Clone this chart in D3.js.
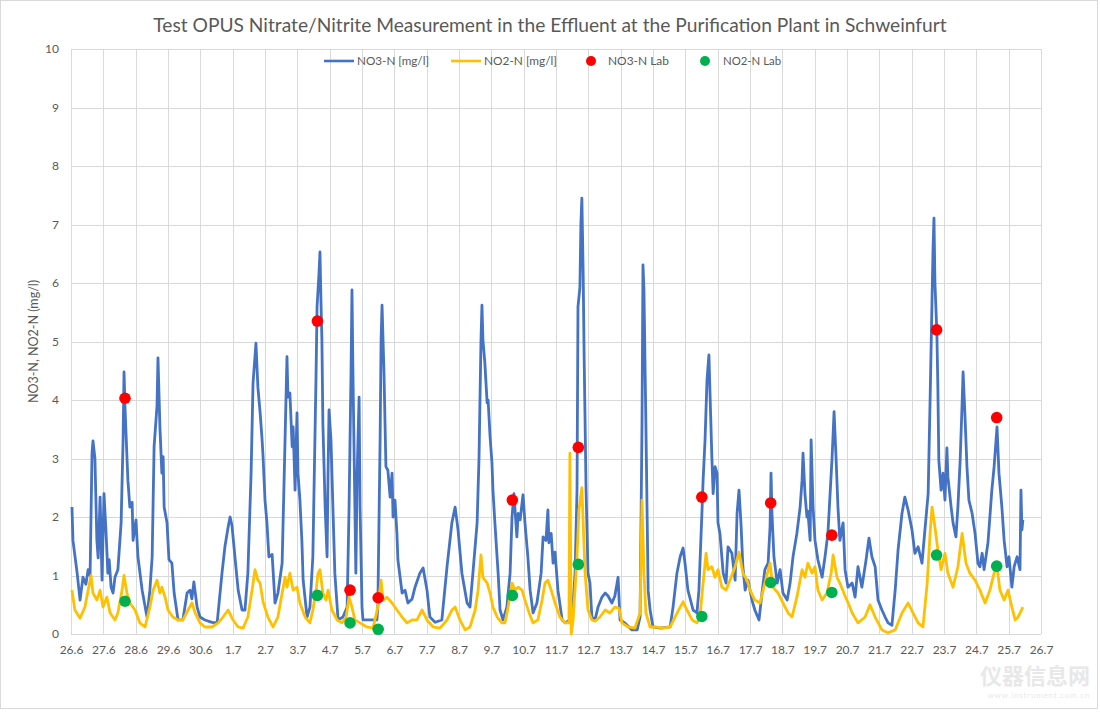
<!DOCTYPE html>
<html><head><meta charset="utf-8">
<script src="https://cdn.jsdelivr.net/npm/d3@7"></script>
<style>body{margin:0;background:#fff;} svg{display:block;}</style>
</head><body>
<svg id="chart" width="1100" height="712"></svg>
<script>
// ---------- data ----------
const chartTitle = "Test OPUS Nitrate/Nitrite Measurement in the Effluent at the Purification Plant in Schweinfurt";
const yAxisTitle = "NO3-N, NO2-N (mg/l)";
const dayLabels = ["26.6","27.6","28.6","29.6","30.6","1.7","2.7","3.7","4.7","5.7","6.7","7.7","8.7","9.7","10.7","11.7","12.7","13.7","14.7","15.7","16.7","17.7","18.7","19.7","20.7","21.7","22.7","23.7","24.7","25.7","26.7"];
const yTicks = [0,1,2,3,4,5,6,7,8,9,10];
const seriesNames = ["NO3-N [mg/l]","NO2-N [mg/l]","NO3-N Lab","NO2-N Lab"];

// [days since 26.6, mg/l]
const no3Series = [[0.03,2.17],[0.06,1.6],[0.19,1.04],[0.28,0.58],[0.37,0.97],[0.46,0.85],[0.53,1.1],[0.59,1.0],[0.65,3.09],[0.68,3.3],[0.74,3.0],[0.80,1.6],[0.84,1.3],[0.90,2.34],[0.96,0.92],[1.02,2.4],[1.08,1.78],[1.14,1.04],[1.18,1.27],[1.24,0.8],[1.30,0.7],[1.36,0.97],[1.45,1.1],[1.55,1.9],[1.61,3.3],[1.64,4.48],[1.67,3.88],[1.73,3.03],[1.76,2.63],[1.82,2.17],[1.89,2.25],[1.92,1.6],[2.01,1.95],[2.07,1.32],[2.20,0.75],[2.35,0.29],[2.44,0.75],[2.51,1.32],[2.57,3.2],[2.66,3.9],[2.69,4.72],[2.75,3.54],[2.81,2.75],[2.85,3.03],[2.88,2.17],[2.97,1.9],[3.03,1.27],[3.12,1.21],[3.19,0.7],[3.31,0.24],[3.46,0.24],[3.59,0.7],[3.68,0.75],[3.74,0.6],[3.80,0.89],[3.90,0.46],[3.99,0.29],[4.14,0.24],[4.36,0.2],[4.52,0.19],[4.67,1.04],[4.76,1.49],[4.86,1.83],[4.92,2.0],[4.98,1.85],[5.07,1.32],[5.17,0.75],[5.29,0.41],[5.38,0.41],[5.47,1.04],[5.57,2.75],[5.63,4.29],[5.72,4.97],[5.78,4.22],[5.85,3.78],[5.91,3.32],[5.94,3.03],[6.00,2.29],[6.06,1.9],[6.12,1.32],[6.22,1.36],[6.31,0.53],[6.40,0.7],[6.53,1.21],[6.62,3.32],[6.68,4.74],[6.71,4.05],[6.77,4.12],[6.84,3.2],[6.87,3.54],[6.93,2.46],[6.99,3.78],[7.02,2.75],[7.08,2.29],[7.14,1.6],[7.18,0.92],[7.30,0.29],[7.39,0.46],[7.48,1.32],[7.58,4.46],[7.61,5.59],[7.67,6.17],[7.70,6.53],[7.73,5.71],[7.76,5.03],[7.79,3.6],[7.86,2.17],[7.92,1.32],[7.95,2.75],[7.98,3.83],[8.04,3.32],[8.10,2.17],[8.16,1.04],[8.26,0.24],[8.41,0.29],[8.54,0.46],[8.60,2.17],[8.66,4.46],[8.69,5.88],[8.72,4.46],[8.78,2.17],[8.81,1.04],[8.85,2.75],[8.91,4.05],[8.94,2.17],[9.00,0.46],[9.03,0.24],[9.25,0.24],[9.46,0.24],[9.49,0.46],[9.56,3.32],[9.59,5.03],[9.62,5.62],[9.68,4.46],[9.74,2.86],[9.80,2.8],[9.87,2.34],[9.93,2.75],[9.96,2.0],[10.02,2.29],[10.08,1.72],[10.11,1.27],[10.24,0.7],[10.33,0.75],[10.42,0.53],[10.55,0.6],[10.64,0.8],[10.79,1.04],[10.89,1.13],[11.01,0.75],[11.10,0.29],[11.26,0.2],[11.47,0.24],[11.63,1.15],[11.78,1.9],[11.88,2.17],[11.97,1.78],[12.09,1.04],[12.25,0.53],[12.34,0.46],[12.43,1.04],[12.56,1.9],[12.62,3.03],[12.68,5.03],[12.71,5.62],[12.74,5.03],[12.80,4.63],[12.87,3.95],[12.90,4.0],[12.96,3.38],[13.02,2.92],[13.05,2.46],[13.11,1.9],[13.21,1.04],[13.27,0.41],[13.36,0.24],[13.48,0.46],[13.58,1.04],[13.64,2.0],[13.70,2.4],[13.79,1.66],[13.83,2.06],[13.89,1.95],[13.98,2.38],[14.04,1.9],[14.13,1.32],[14.20,0.75],[14.29,0.36],[14.41,0.53],[14.54,1.04],[14.60,1.66],[14.69,1.6],[14.75,2.12],[14.78,1.56],[14.85,1.72],[14.91,1.21],[14.97,1.4],[15.06,0.75],[15.19,0.24],[15.28,0.19],[15.37,0.22],[15.50,0.29],[15.59,1.04],[15.65,2.46],[15.68,5.59],[15.74,5.93],[15.77,7.02],[15.80,7.45],[15.84,6.17],[15.87,4.74],[15.93,2.46],[15.99,1.04],[16.05,0.87],[16.11,0.29],[16.21,0.25],[16.30,0.46],[16.42,0.63],[16.52,0.7],[16.61,0.65],[16.73,0.53],[16.82,0.65],[16.92,0.97],[16.98,0.24],[17.13,0.19],[17.35,0.07],[17.51,0.07],[17.60,0.29],[17.66,3.6],[17.69,6.31],[17.72,5.88],[17.78,3.6],[17.85,0.75],[17.91,0.41],[18.00,0.12],[18.22,0.1],[18.53,0.12],[18.62,0.46],[18.74,1.04],[18.84,1.32],[18.93,1.47],[18.99,1.21],[19.08,0.75],[19.24,0.41],[19.36,0.36],[19.42,0.75],[19.52,2.17],[19.55,2.63],[19.61,3.32],[19.67,4.34],[19.73,4.77],[19.76,4.17],[19.82,3.03],[19.86,2.4],[19.92,2.86],[19.98,2.75],[20.01,1.9],[20.07,1.72],[20.17,1.04],[20.26,0.87],[20.32,1.49],[20.44,1.38],[20.54,0.92],[20.60,2.06],[20.66,2.46],[20.72,1.9],[20.78,1.15],[20.85,0.75],[20.94,0.92],[21.06,0.58],[21.15,0.41],[21.28,0.24],[21.37,0.7],[21.46,1.1],[21.56,1.21],[21.62,1.83],[21.65,2.75],[21.68,2.06],[21.74,1.32],[21.84,0.87],[21.93,1.1],[22.02,0.7],[22.15,0.58],[22.24,0.87],[22.33,1.32],[22.45,1.72],[22.55,2.17],[22.61,2.63],[22.64,3.09],[22.70,2.4],[22.76,2.0],[22.79,2.1],[22.86,1.6],[22.89,3.32],[22.95,2.17],[23.01,1.6],[23.10,1.27],[23.23,0.97],[23.32,1.32],[23.41,1.72],[23.54,3.03],[23.60,3.8],[23.66,3.03],[23.72,2.17],[23.78,1.6],[23.88,1.9],[23.94,1.1],[24.03,0.8],[24.16,0.87],[24.25,0.63],[24.34,1.15],[24.46,0.8],[24.59,1.27],[24.68,1.64],[24.77,1.32],[24.87,1.15],[24.96,0.58],[25.08,0.41],[25.18,0.29],[25.27,0.19],[25.39,0.15],[25.49,0.75],[25.58,1.44],[25.70,2.06],[25.79,2.34],[25.89,2.12],[26.01,1.78],[26.10,1.38],[26.20,1.49],[26.32,1.21],[26.41,1.78],[26.51,2.4],[26.57,4.0],[26.63,5.71],[26.66,6.56],[26.69,7.11],[26.72,6.0],[26.78,5.14],[26.81,4.22],[26.84,2.97],[26.91,2.46],[26.97,2.75],[27.03,2.29],[27.09,3.18],[27.12,2.69],[27.22,2.17],[27.28,1.9],[27.37,1.66],[27.43,2.17],[27.50,2.97],[27.56,3.94],[27.59,4.48],[27.65,3.71],[27.71,2.86],[27.77,2.29],[27.87,2.06],[27.96,1.72],[28.05,1.21],[28.11,1.15],[28.18,1.38],[28.24,1.1],[28.36,1.56],[28.48,2.46],[28.55,2.86],[28.64,3.54],[28.70,2.75],[28.79,2.17],[28.86,1.6],[28.95,1.15],[29.01,1.32],[29.10,0.8],[29.17,1.15],[29.26,1.32],[29.35,1.1],[29.38,2.46],[29.41,1.78],[29.44,1.95]];

const no2Series = [[0.03,0.75],[0.12,0.41],[0.28,0.27],[0.43,0.46],[0.53,0.75],[0.62,1.0],[0.68,0.7],[0.80,0.58],[0.90,0.75],[0.99,0.46],[1.11,0.63],[1.21,0.36],[1.36,0.24],[1.45,0.36],[1.58,0.75],[1.64,1.0],[1.73,0.7],[1.82,0.53],[1.98,0.41],[2.13,0.19],[2.29,0.12],[2.44,0.46],[2.54,0.75],[2.66,0.92],[2.75,0.7],[2.81,0.8],[2.91,0.63],[3.00,0.41],[3.15,0.29],[3.31,0.24],[3.46,0.24],[3.62,0.41],[3.74,0.53],[3.84,0.36],[3.99,0.19],[4.14,0.12],[4.36,0.12],[4.55,0.19],[4.70,0.29],[4.86,0.41],[5.01,0.24],[5.17,0.12],[5.32,0.1],[5.47,0.29],[5.60,0.75],[5.69,1.1],[5.78,0.92],[5.85,0.87],[5.94,0.55],[6.09,0.29],[6.25,0.12],[6.40,0.29],[6.53,0.7],[6.62,0.97],[6.68,0.8],[6.77,1.04],[6.87,0.75],[6.99,0.8],[7.08,0.53],[7.24,0.29],[7.39,0.19],[7.48,0.41],[7.58,0.75],[7.64,1.04],[7.70,1.1],[7.79,0.7],[7.89,0.58],[7.95,0.75],[8.07,0.41],[8.23,0.24],[8.38,0.19],[8.51,0.29],[8.60,0.63],[8.69,0.46],[8.78,0.24],[8.94,0.19],[9.15,0.12],[9.34,0.1],[9.49,0.46],[9.59,0.92],[9.65,0.58],[9.77,0.63],[9.93,0.53],[10.08,0.41],[10.24,0.29],[10.39,0.19],[10.55,0.24],[10.70,0.24],[10.86,0.41],[11.01,0.24],[11.20,0.12],[11.41,0.1],[11.63,0.24],[11.78,0.41],[11.88,0.46],[12.03,0.24],[12.19,0.07],[12.34,0.12],[12.50,0.41],[12.59,0.75],[12.68,1.35],[12.74,0.97],[12.87,0.87],[12.96,0.7],[13.05,0.46],[13.18,0.29],[13.33,0.19],[13.42,0.19],[13.52,0.46],[13.64,0.87],[13.73,0.75],[13.83,0.8],[13.95,0.75],[14.04,0.58],[14.17,0.36],[14.29,0.19],[14.44,0.24],[14.57,0.58],[14.66,0.87],[14.75,0.92],[14.88,0.7],[14.97,0.53],[15.12,0.29],[15.28,0.19],[15.40,0.19],[15.43,3.09],[15.47,0.0],[15.53,0.24],[15.65,1.32],[15.71,2.12],[15.80,2.5],[15.84,1.9],[15.90,1.04],[15.99,0.41],[16.11,0.24],[16.21,0.22],[16.36,0.29],[16.52,0.41],[16.67,0.36],[16.82,0.46],[16.95,0.44],[17.04,0.19],[17.23,0.12],[17.44,0.1],[17.60,0.36],[17.66,2.29],[17.72,1.04],[17.78,0.36],[17.91,0.12],[18.06,0.12],[18.31,0.1],[18.53,0.12],[18.68,0.29],[18.84,0.46],[18.93,0.55],[19.05,0.41],[19.21,0.24],[19.36,0.19],[19.45,0.29],[19.55,0.87],[19.64,1.38],[19.70,1.1],[19.82,1.15],[19.92,0.97],[20.01,1.1],[20.13,0.8],[20.26,0.75],[20.38,0.92],[20.54,1.15],[20.66,1.4],[20.78,1.04],[20.91,0.92],[21.00,0.75],[21.15,0.58],[21.31,0.53],[21.46,0.87],[21.62,1.21],[21.71,0.8],[21.87,0.7],[22.02,0.53],[22.18,0.36],[22.30,0.29],[22.45,0.63],[22.61,1.1],[22.70,0.97],[22.79,1.21],[22.92,1.04],[23.01,1.15],[23.10,0.75],[23.23,0.58],[23.38,0.7],[23.51,1.04],[23.57,1.35],[23.69,0.97],[23.78,0.87],[23.94,0.65],[24.06,0.5],[24.16,0.36],[24.34,0.19],[24.56,0.29],[24.71,0.5],[24.87,0.29],[25.08,0.07],[25.27,0.02],[25.49,0.07],[25.70,0.36],[25.89,0.53],[26.04,0.36],[26.20,0.19],[26.35,0.12],[26.48,0.87],[26.57,1.72],[26.63,2.17],[26.72,1.83],[26.81,1.44],[26.91,1.1],[27.03,1.38],[27.12,1.04],[27.28,0.8],[27.43,1.15],[27.56,1.72],[27.68,1.21],[27.80,1.04],[27.96,0.92],[28.11,0.75],[28.27,0.53],[28.42,0.75],[28.55,1.04],[28.64,1.15],[28.73,0.75],[28.86,0.58],[28.98,0.75],[29.10,0.46],[29.20,0.24],[29.29,0.29],[29.44,0.46]];

const labDays = [1.67,7.62,8.63,9.50,13.65,15.69,19.51,21.64,23.53,26.77,28.63];
const no3Lab = [4.03,5.35,0.75,0.62,2.29,3.19,2.34,2.24,1.69,5.2,3.7];
const no2Lab = [0.56,0.66,0.19,0.08,0.66,1.19,0.3,0.88,0.71,1.35,1.16];

const watermarkText = ["仪器信息网", "www.instrument.com.cn"];

// ---------- drawing ----------
const W = 1100, H = 712;
const M = {left:71, right:1041, top:49, bottom:634};
const COL = {no3:"#4472C4", no2:"#FFC000", no3Lab:"#FF0000", no2Lab:"#00B050", grid:"#D9D9D9", text:"#595959"};
const FONT = "Lato, 'Open Sans', 'Liberation Sans', sans-serif";

const svg = d3.select("#chart").attr("font-family", FONT);
svg.append("rect").attr("x",0.5).attr("y",0.5).attr("width",W-3).attr("height",H-4)
  .attr("fill","#fff").attr("stroke","#D9D9D9");

const x = d3.scaleLinear().domain([0, dayLabels.length-1]).range([M.left, M.right]);
const y = d3.scaleLinear().domain([0, 10]).range([M.bottom, M.top]);

function fitWidth(sel, target){
  const w = sel.node().getComputedTextLength();
  const fs = parseFloat(sel.attr("font-size"));
  sel.attr("font-size", (fs*target/w).toFixed(2));
}

// horizontal grid + y labels
const yAxis = d3.axisLeft(y).tickValues(yTicks).tickSize(-(M.right-M.left)).tickPadding(12).tickFormat(d3.format("d"));
const gy = svg.append("g").attr("transform",`translate(${M.left},0)`).call(yAxis);
gy.select(".domain").remove();
gy.selectAll(".tick line").attr("stroke",COL.grid).attr("shape-rendering","crispEdges");
gy.selectAll(".tick text").attr("fill",COL.text).attr("font-size",12).attr("font-family",FONT);

// vertical grid + x labels
const xAxis = d3.axisBottom(x).tickValues(d3.range(dayLabels.length)).tickSize(-(M.bottom-M.top)).tickPadding(11).tickFormat(i=>dayLabels[i]);
const gx = svg.append("g").attr("transform",`translate(0,${M.bottom})`).call(xAxis);
gx.select(".domain").attr("stroke",COL.grid).attr("shape-rendering","crispEdges").attr("d",`M${M.left},0H${M.right}`);
gx.selectAll(".tick line").attr("stroke",COL.grid).attr("shape-rendering","crispEdges");
gx.selectAll(".tick text").attr("fill",COL.text).attr("font-size",12).attr("font-family",FONT);

// lines
const line = d3.line().x(d=>x(d[0])).y(d=>y(d[1]));
svg.append("path").datum(no3Series).attr("d",line).attr("fill","none")
  .attr("stroke",COL.no3).attr("stroke-width",2.8).attr("stroke-linejoin","round");
svg.append("path").datum(no2Series).attr("d",line).attr("fill","none")
  .attr("stroke",COL.no2).attr("stroke-width",2.8).attr("stroke-linejoin","round");

// lab points
svg.append("g").selectAll("circle").data(labDays.map((d,i)=>[d,no3Lab[i]])).join("circle")
  .attr("cx",d=>x(d[0])).attr("cy",d=>y(d[1])).attr("r",5.8).attr("fill",COL.no3Lab);
svg.append("g").selectAll("circle").data(labDays.map((d,i)=>[d,no2Lab[i]])).join("circle")
  .attr("cx",d=>x(d[0])).attr("cy",d=>y(d[1])).attr("r",5.8).attr("fill",COL.no2Lab);

// title
const t = svg.append("text").attr("x",W/2).attr("y",32).attr("text-anchor","middle")
  .attr("fill",COL.text).attr("font-size",18).text(chartTitle);
fitWidth(t, 794);

// y axis title
svg.append("text").attr("transform",`translate(38,${(M.top+M.bottom)/2}) rotate(-90)`)
  .attr("text-anchor","middle").attr("fill",COL.text).attr("font-size",12.5).text(yAxisTitle);

// legend
const lg = svg.append("g");
const legY = 61;
const legendLayout = [
  {type:"line", color:COL.no3, x0:324, x1:354, tx:357, w:72},
  {type:"line", color:COL.no2, x0:451, x1:481, tx:484, w:73},
  {type:"dot",  color:COL.no3Lab, cx:591, tx:608, w:61},
  {type:"dot",  color:COL.no2Lab, cx:705, tx:723, w:58}
];
legendLayout.forEach((it,i)=>{
  if(it.type==="line"){
    lg.append("line").attr("x1",it.x0).attr("x2",it.x1).attr("y1",legY).attr("y2",legY)
      .attr("stroke",it.color).attr("stroke-width",2.6);
  } else {
    lg.append("circle").attr("cx",it.cx).attr("cy",legY).attr("r",5).attr("fill",it.color);
  }
  const tt = lg.append("text").attr("x",it.tx).attr("y",legY+4.2).attr("fill",COL.text)
    .attr("font-size",12).text(seriesNames[i]);
  fitWidth(tt, it.w);
});

// faint watermark, kept below the axis labels
svg.append("text").attr("x",1090).attr("y",684).attr("text-anchor","end")
  .attr("font-family","'Noto Sans CJK SC', sans-serif").attr("font-weight",700)
  .attr("font-size",22).attr("fill","#E8E8E8").text(watermarkText[0]);
svg.append("text").attr("x",1090).attr("y",698).attr("text-anchor","end")
  .attr("font-size",8).attr("fill","#E8E8E8").attr("letter-spacing",0.8).text(watermarkText[1]);
</script>
</body></html>
